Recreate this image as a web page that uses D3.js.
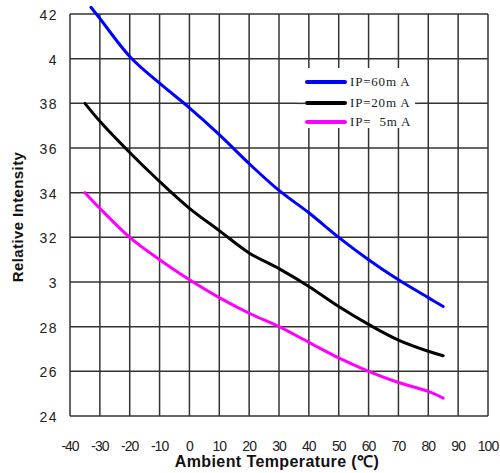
<!DOCTYPE html>
<html>
<head>
<meta charset="utf-8">
<script src="https://cdn.jsdelivr.net/npm/d3@7"></script>
<style>
  body { margin: 0; background: #fff; }
  svg { display: block; }
</style>
</head>
<body>
<svg id="chart" width="500" height="473"></svg>
<script>
// values
const temps60 = [-33, -30, -20, -10, 0, 10, 20, 30, 40, 50, 60, 70, 80, 85];
const ip60 = [4.23, 4.18, 4.01, 3.89, 3.78, 3.66, 3.53, 3.41, 3.31, 3.20, 3.10, 3.01, 2.93, 2.89];
const temps20 = [-35, -30, -20, -10, 0, 10, 20, 30, 40, 50, 60, 70, 80, 85];
const ip20 = [3.80, 3.72, 3.58, 3.45, 3.33, 3.23, 3.13, 3.06, 2.98, 2.89, 2.81, 2.74, 2.69, 2.67];
const temps5 = [-35, -30, -20, -10, 0, 10, 20, 30, 40, 50, 60, 70, 80, 85];
const ip5 = [3.40, 3.33, 3.20, 3.10, 3.01, 2.93, 2.86, 2.80, 2.73, 2.66, 2.60, 2.55, 2.51, 2.48];

const seriesNames = ['IP=60m A', 'IP=20m A', 'IP=\u00a0 5m A'];
const seriesColors = ['#0000ff', '#000000', '#ff00ff'];

const xTicks = [-40, -30, -20, -10, 0, 10, 20, 30, 40, 50, 60, 70, 80, 90, 100];
const yTicks = [2.4, 2.6, 2.8, 3, 3.2, 3.4, 3.6, 3.8, 4, 4.2];
const yTickLabels = ['24', '26', '28', '3', '32', '34', '36', '38', '4', '42'];

const series = [
  { name: seriesNames[0], color: seriesColors[0], points: temps60.map((t, i) => ({ x: t, y: ip60[i] })) },
  { name: seriesNames[1], color: seriesColors[1], points: temps20.map((t, i) => ({ x: t, y: ip20[i] })) },
  { name: seriesNames[2], color: seriesColors[2], points: temps5.map((t, i) => ({ x: t, y: ip5[i] })) },
];

const margin = { top: 14, right: 12, bottom: 57, left: 70 };
const width = 500, height = 473;
const w = width - margin.left - margin.right;
const h = height - margin.top - margin.bottom;

const svg = d3.select('#chart');

const x = d3.scaleLinear().domain([-40, 100]).range([0, w]);
const y = d3.scaleLinear().domain([2.4, 4.2]).range([h, 0]);

const g = svg.append('g').attr('transform', `translate(${margin.left},${margin.top})`);

// grid
g.append('g')
  .selectAll('line')
  .data(xTicks)
  .enter()
  .append('line')
  .attr('x1', d => x(d)).attr('x2', d => x(d))
  .attr('y1', 0).attr('y2', h)
  .attr('stroke', '#333').attr('stroke-width', 1.5);

g.append('g')
  .selectAll('line')
  .data(yTicks)
  .enter()
  .append('line')
  .attr('x1', 0).attr('x2', w)
  .attr('y1', d => y(d)).attr('y2', d => y(d))
  .attr('stroke', '#333').attr('stroke-width', 1.5);

// curves
const line = d3.line()
  .x(d => x(d.x))
  .y(d => y(d.y))
  .curve(d3.curveCatmullRom.alpha(0.5));

g.selectAll('path.curve')
  .data(series)
  .enter()
  .append('path')
  .attr('class', 'curve')
  .attr('d', d => line(d.points))
  .attr('fill', 'none')
  .attr('stroke', d => d.color)
  .attr('stroke-width', 3)
  .attr('stroke-linecap', 'round');

// legend box (white, covers the grid)
const legend = svg.append('g').attr('transform', 'translate(297,68)');
legend.append('rect')
  .attr('width', 121).attr('height', 60)
  .attr('fill', '#fff');

const rows = legend.selectAll('g.row')
  .data(series)
  .enter()
  .append('g')
  .attr('transform', (d, i) => `translate(0,${[14, 35, 54][i]})`);

rows.append('line')
  .attr('x1', 10).attr('x2', 48)
  .attr('stroke', d => d.color)
  .attr('stroke-width', 4)
  .attr('stroke-linecap', 'round');

rows.append('text')
  .attr('x', 53).attr('y', 4)
  .style('font-family', '"Liberation Serif", "DejaVu Serif", serif')
  .style('font-size', '13px')
  .style('letter-spacing', '0.8px')
  .style('fill', '#222')
  .text(d => d.name);

// the 3.8 grid line runs right through the legend behind the black entry
const yl = y(3.8) + margin.top - 68;
legend.append('line')
  .attr('x1', 0).attr('x2', 8).attr('y1', yl).attr('y2', yl)
  .attr('stroke', '#333').attr('stroke-width', 1.5);
legend.append('line')
  .attr('x1', 118).attr('x2', 121).attr('y1', yl).attr('y2', yl)
  .attr('stroke', '#333').attr('stroke-width', 1.5);

// axis labels
const tickFont = '"Liberation Sans", Arial, sans-serif';

svg.append('g')
  .selectAll('text')
  .data(xTicks)
  .enter()
  .append('text')
  .attr('x', d => margin.left + x(d))
  .attr('y', 451)
  .style('text-anchor', 'middle')
  .style('font-family', tickFont)
  .style('font-size', '14px')
  .style('letter-spacing', '-1px')
  .style('fill', '#222')
  .text(d => d);

svg.append('g')
  .selectAll('text')
  .data(yTicks)
  .enter()
  .append('text')
  .attr('x', 58)
  .attr('y', d => margin.top + y(d) + 6)
  .style('text-anchor', 'end')
  .style('font-family', tickFont)
  .style('font-size', '14px')
  .style('letter-spacing', '1.5px')
  .style('fill', '#222')
  .text((d, i) => yTickLabels[i]);

svg.append('text')
  .attr('x', 277)
  .attr('y', 467)
  .style('text-anchor', 'middle')
  .style('font-family', tickFont)
  .style('font-size', '16px')
  .style('font-weight', 'bold')
  .style('letter-spacing', '0.4px')
  .style('fill', '#111')
  .text('Ambient Temperature (\u2103)');

svg.append('text')
  .attr('transform', 'translate(23,217) rotate(-90)')
  .style('text-anchor', 'middle')
  .style('font-family', tickFont)
  .style('font-size', '15px')
  .style('font-weight', 'bold')
  .style('letter-spacing', '0.4px')
  .style('fill', '#111')
  .text('Relative Intensity');
</script>
</body>
</html>
